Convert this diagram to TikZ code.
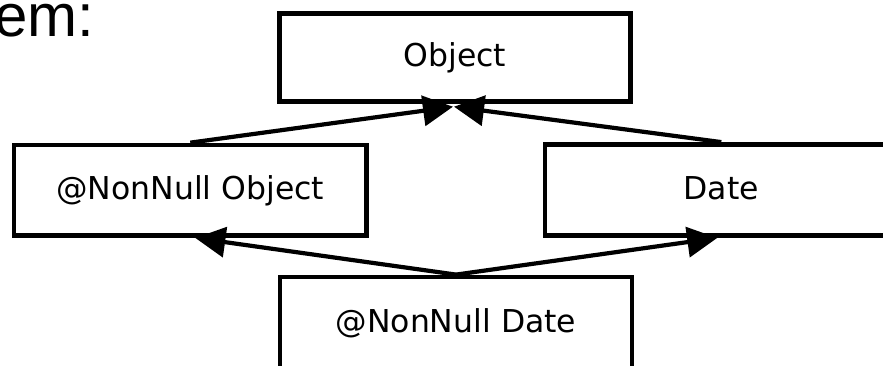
\documentclass[tikz,border=0pt]{standalone}
\usepackage{fontspec}
\setmainfont{DejaVu Sans}
\newfontfamily\titlefont{Liberation Sans}
\usetikzlibrary{arrows.meta}
\tikzset{
  box/.style={draw, line width=4.8pt, rectangle, inner sep=0pt,
    font=\fontsize{31.5}{36}\selectfont, text height=23pt, text depth=4pt},
  inherit/.style={line width=4.2pt, -{Triangle[length=30pt,width=30pt]}}
}
\begin{document}
\begin{tikzpicture}[x=1pt,y=-1pt]
\useasboundingbox (0,0) rectangle (883,365);
\clip (0,0) rectangle (883,365);
\node[anchor=base west, inner sep=0pt, font=\titlefont\fontsize{60}{70}\selectfont] (title) at (-6,36.7) {em:};
\node[box, minimum width=351pt, minimum height=88pt] (obj) at (455,57.3) {Object};
\node[box, minimum width=352.5pt, minimum height=90.5pt] (nno) at (190.3,190.3) {@NonNull Object};
\node[box, minimum width=352.5pt, minimum height=91pt] (date) at (721.3,190) {Date};
\node[box, minimum width=352pt, minimum height=92pt] (nnd) at (456,323) {@NonNull Date};
\draw[inherit] (nno.north) -- ([xshift=-2pt,yshift=-3pt]obj.south);
\draw[inherit] (date.north) -- ([xshift=-1pt,yshift=-3pt]obj.south);
\draw[inherit] (nnd.north) -- ([xshift=5pt]nno.south);
\draw[inherit] (nnd.north) -- ([xshift=-4pt]date.south);
\end{tikzpicture}
\end{document}
